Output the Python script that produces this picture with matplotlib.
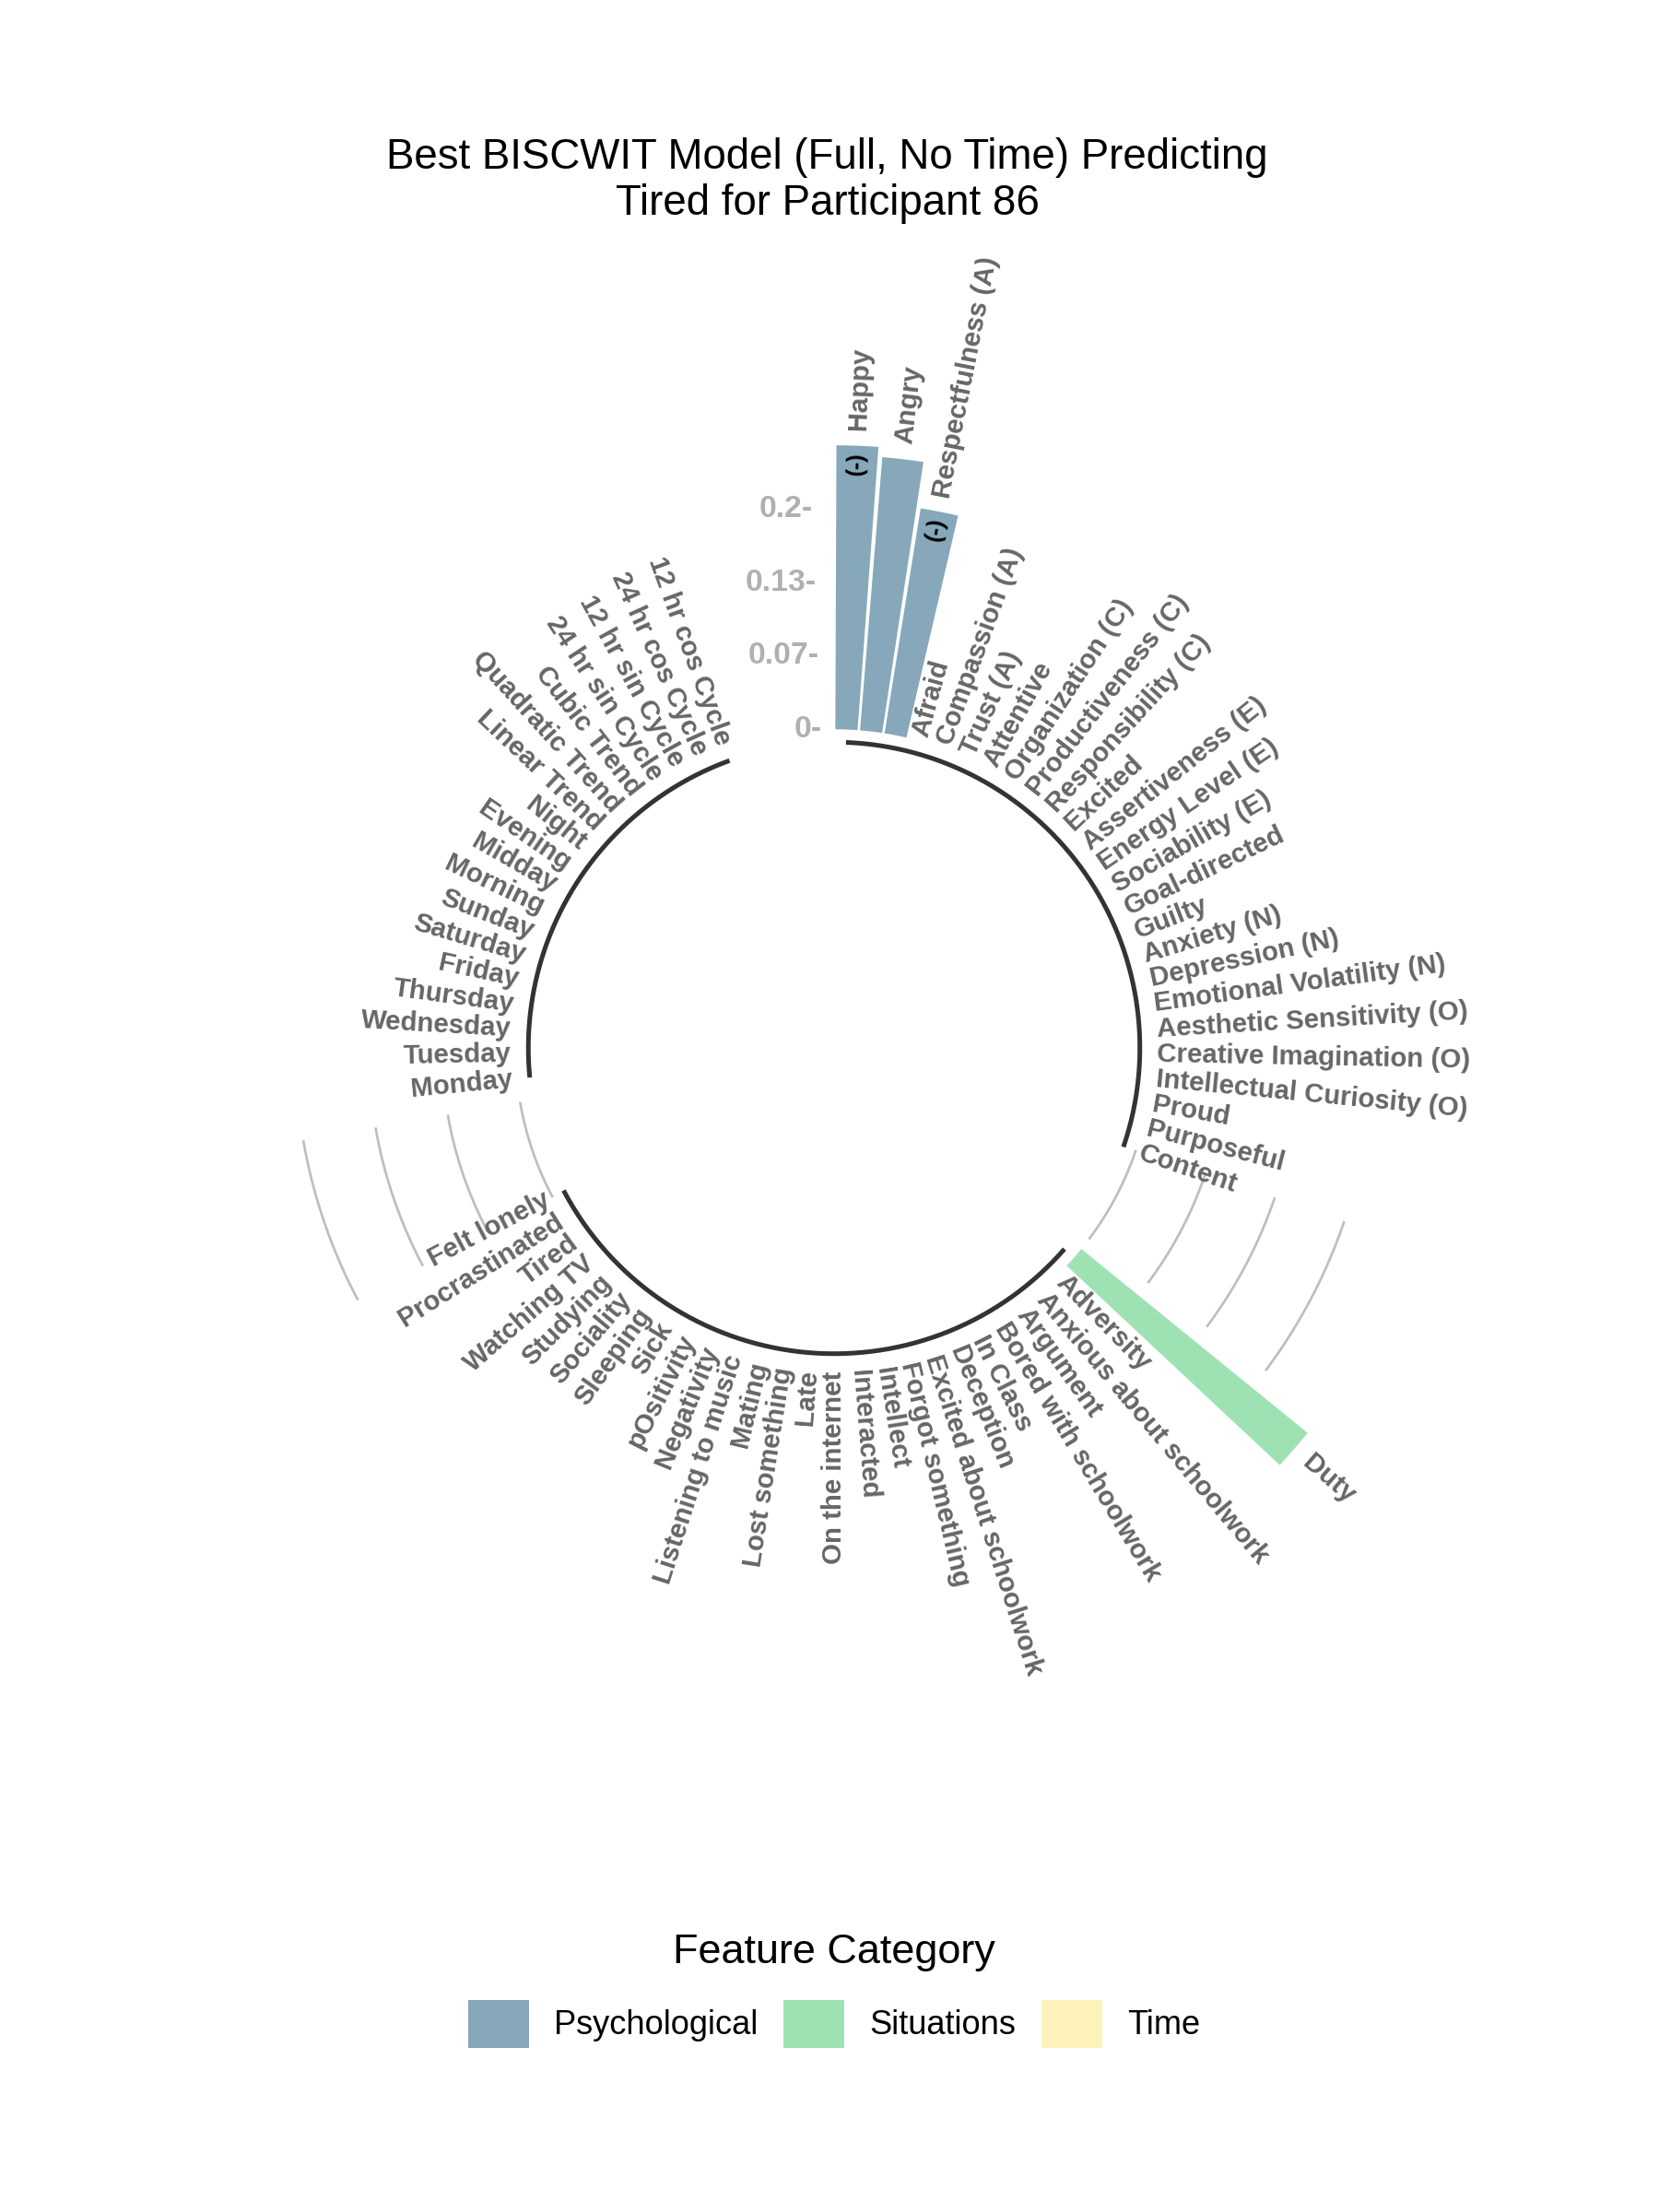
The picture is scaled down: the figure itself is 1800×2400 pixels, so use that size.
import numpy as np
import matplotlib
matplotlib.use("Agg")
import matplotlib.pyplot as plt
from matplotlib.patches import Patch

plt.rcParams['font.family'] = ['Liberation Sans', 'DejaVu Sans']

# feature importances, sorted within each category (as in the source figure)
psych_labels = ["Happy", "Angry", "Respectfulness (A)", "Afraid", "Compassion (A)", "Trust (A)",
                "Attentive", "Organization (C)", "Productiveness (C)", "Responsibility (C)", "Excited",
                "Assertiveness (E)", "Energy Level (E)", "Sociability (E)", "Goal-directed", "Guilty",
                "Anxiety (N)", "Depression (N)", "Emotional Volatility (N)", "Aesthetic Sensitivity (O)",
                "Creative Imagination (O)", "Intellectual Curiosity (O)", "Proud", "Purposeful", "Content"]
psych_values = [0.258, 0.249, 0.207] + [0.0] * 22
psych_sign = ["-", "+", "-"] + [""] * 22

sit_labels = ["Duty", "Adversity", "Anxious about schoolwork", "Argument", "Bored with schoolwork",
              "In Class", "Deception", "Excited about schoolwork", "Forgot something", "Intellect",
              "Interacted", "On the internet", "Late", "Lost something", "Mating", "Listening to music",
              "Negativity", "pOsitivity", "Sick", "Sleeping", "Sociality", "Studying", "Watching TV",
              "Tired", "Procrastinated", "Felt lonely"]
sit_values = [0.265] + [0.0] * 25
sit_sign = ["+"] + [""] * 25

time_labels = ["Monday", "Tuesday", "Wednesday", "Thursday", "Friday", "Saturday", "Sunday",
               "Morning", "Midday", "Evening", "Night", "Linear Trend", "Quadratic Trend",
               "Cubic Trend", "24 hr sin Cycle", "12 hr sin Cycle", "24 hr cos Cycle", "12 hr cos Cycle"]
time_values = [0.0] * 18
time_sign = [""] * 18

groups = ["Psychological", "Situations", "Time"]
colors = {"Psychological": "#86A8BA", "Situations": "#9EE2B4", "Time": "#FFF3BB"}
grid_values = [0, 0.2 / 3, 0.4 / 3, 0.2]
grid_text = ["0-", "0.07-", "0.13-", "0.2-"]

empty_bar = 4
data = [(psych_labels, psych_values, psych_sign),
        (sit_labels, sit_values, sit_sign),
        (time_labels, time_values, time_sign)]
n_total = sum(len(d[0]) + empty_bar for d in data)
step = 2 * np.pi / n_total


def ang(i):
    return (i - 0.5) * step


fig = plt.figure(figsize=(6, 8), dpi=300)
ax = fig.add_axes([201 / 1800, 1 - 1841 / 2400, 1408 / 1800, 1408 / 2400], projection='polar')
ax.set_theta_zero_location('N')
ax.set_theta_direction(-1)
ax.set_ylim(-0.2895, 0.3)
ax.axis('off')

start = 1
bounds = []
for g, (labs, vals, sign) in zip(groups, data):
    ids = np.arange(start, start + len(labs))
    th = ang(ids)
    ax.bar(th, vals, width=0.9 * step, bottom=0, color=colors[g], edgecolor='none', zorder=2)
    for t, lab, v, s in zip(th, labs, vals, sign):
        deg = np.degrees(t)
        if deg < 180:
            rot, ha = 90 - deg, 'left'
        else:
            rot, ha = 270 - deg, 'right'
        ax.text(t, v * 1.04 + 0.004, lab, rotation=rot, ha=ha, va='center',
                rotation_mode='anchor', fontsize=7.05, fontweight='bold', color='#666666',
                clip_on=False, zorder=3)
        if s == "-":
            ax.text(t, v - 0.016, "(-)", rotation=rot, ha='center', va='center',
                    rotation_mode='anchor', fontsize=6, fontweight='bold', color='black',
                    clip_on=False, zorder=3)
    bounds.append((ids[0], ids[-1]))
    # base line under each group
    tt = np.linspace(ang(ids[0]), ang(ids[-1]), 200)
    ax.plot(tt, np.full_like(tt, -0.0117), color='black', alpha=0.8, lw=1.2,
            solid_capstyle='butt', zorder=1)
    start += len(labs) + empty_bar

# grey scale arcs in the gaps (not in the first gap)
for k in range(1, len(bounds)):
    t0 = ang(bounds[k - 1][1])
    t1 = ang(bounds[k][0] - 1)
    tt = np.linspace(t0, t1, 100)
    for gv in grid_values:
        ax.plot(tt, np.full_like(tt, gv), color='#BEBEBE', lw=0.65, zorder=1)

# scale labels in the first gap
for gv, gt in zip(grid_values, grid_text):
    ax.text(ang(n_total), gv, gt, ha='right', va='center', fontsize=8.1,
            fontweight='bold', color='#B0B0B0', clip_on=False)

fig.text(0.4986, 1 - 183 / 2400, "Best BISCWIT Model (Full, No Time) Predicting",
         ha='center', va='baseline', fontsize=10.95)
fig.text(0.4986, 1 - 233 / 2400, "Tired for Participant 86",
         ha='center', va='baseline', fontsize=10.95)

handles = [Patch(facecolor=colors[g], edgecolor='none', label=g) for g in groups]
leg = fig.legend(handles=handles, loc='upper center', bbox_to_anchor=(905 / 1800, 1 - 2080 / 2400),
                 ncol=3, frameon=False, fontsize=8.7, title="Feature Category",
                 title_fontsize=10.8, handlelength=1.82, handleheight=1.82,
                 handletextpad=0.75, columnspacing=0.77, labelspacing=0.85, borderpad=0)

fig.savefig("out.png", dpi=300, facecolor='white')
